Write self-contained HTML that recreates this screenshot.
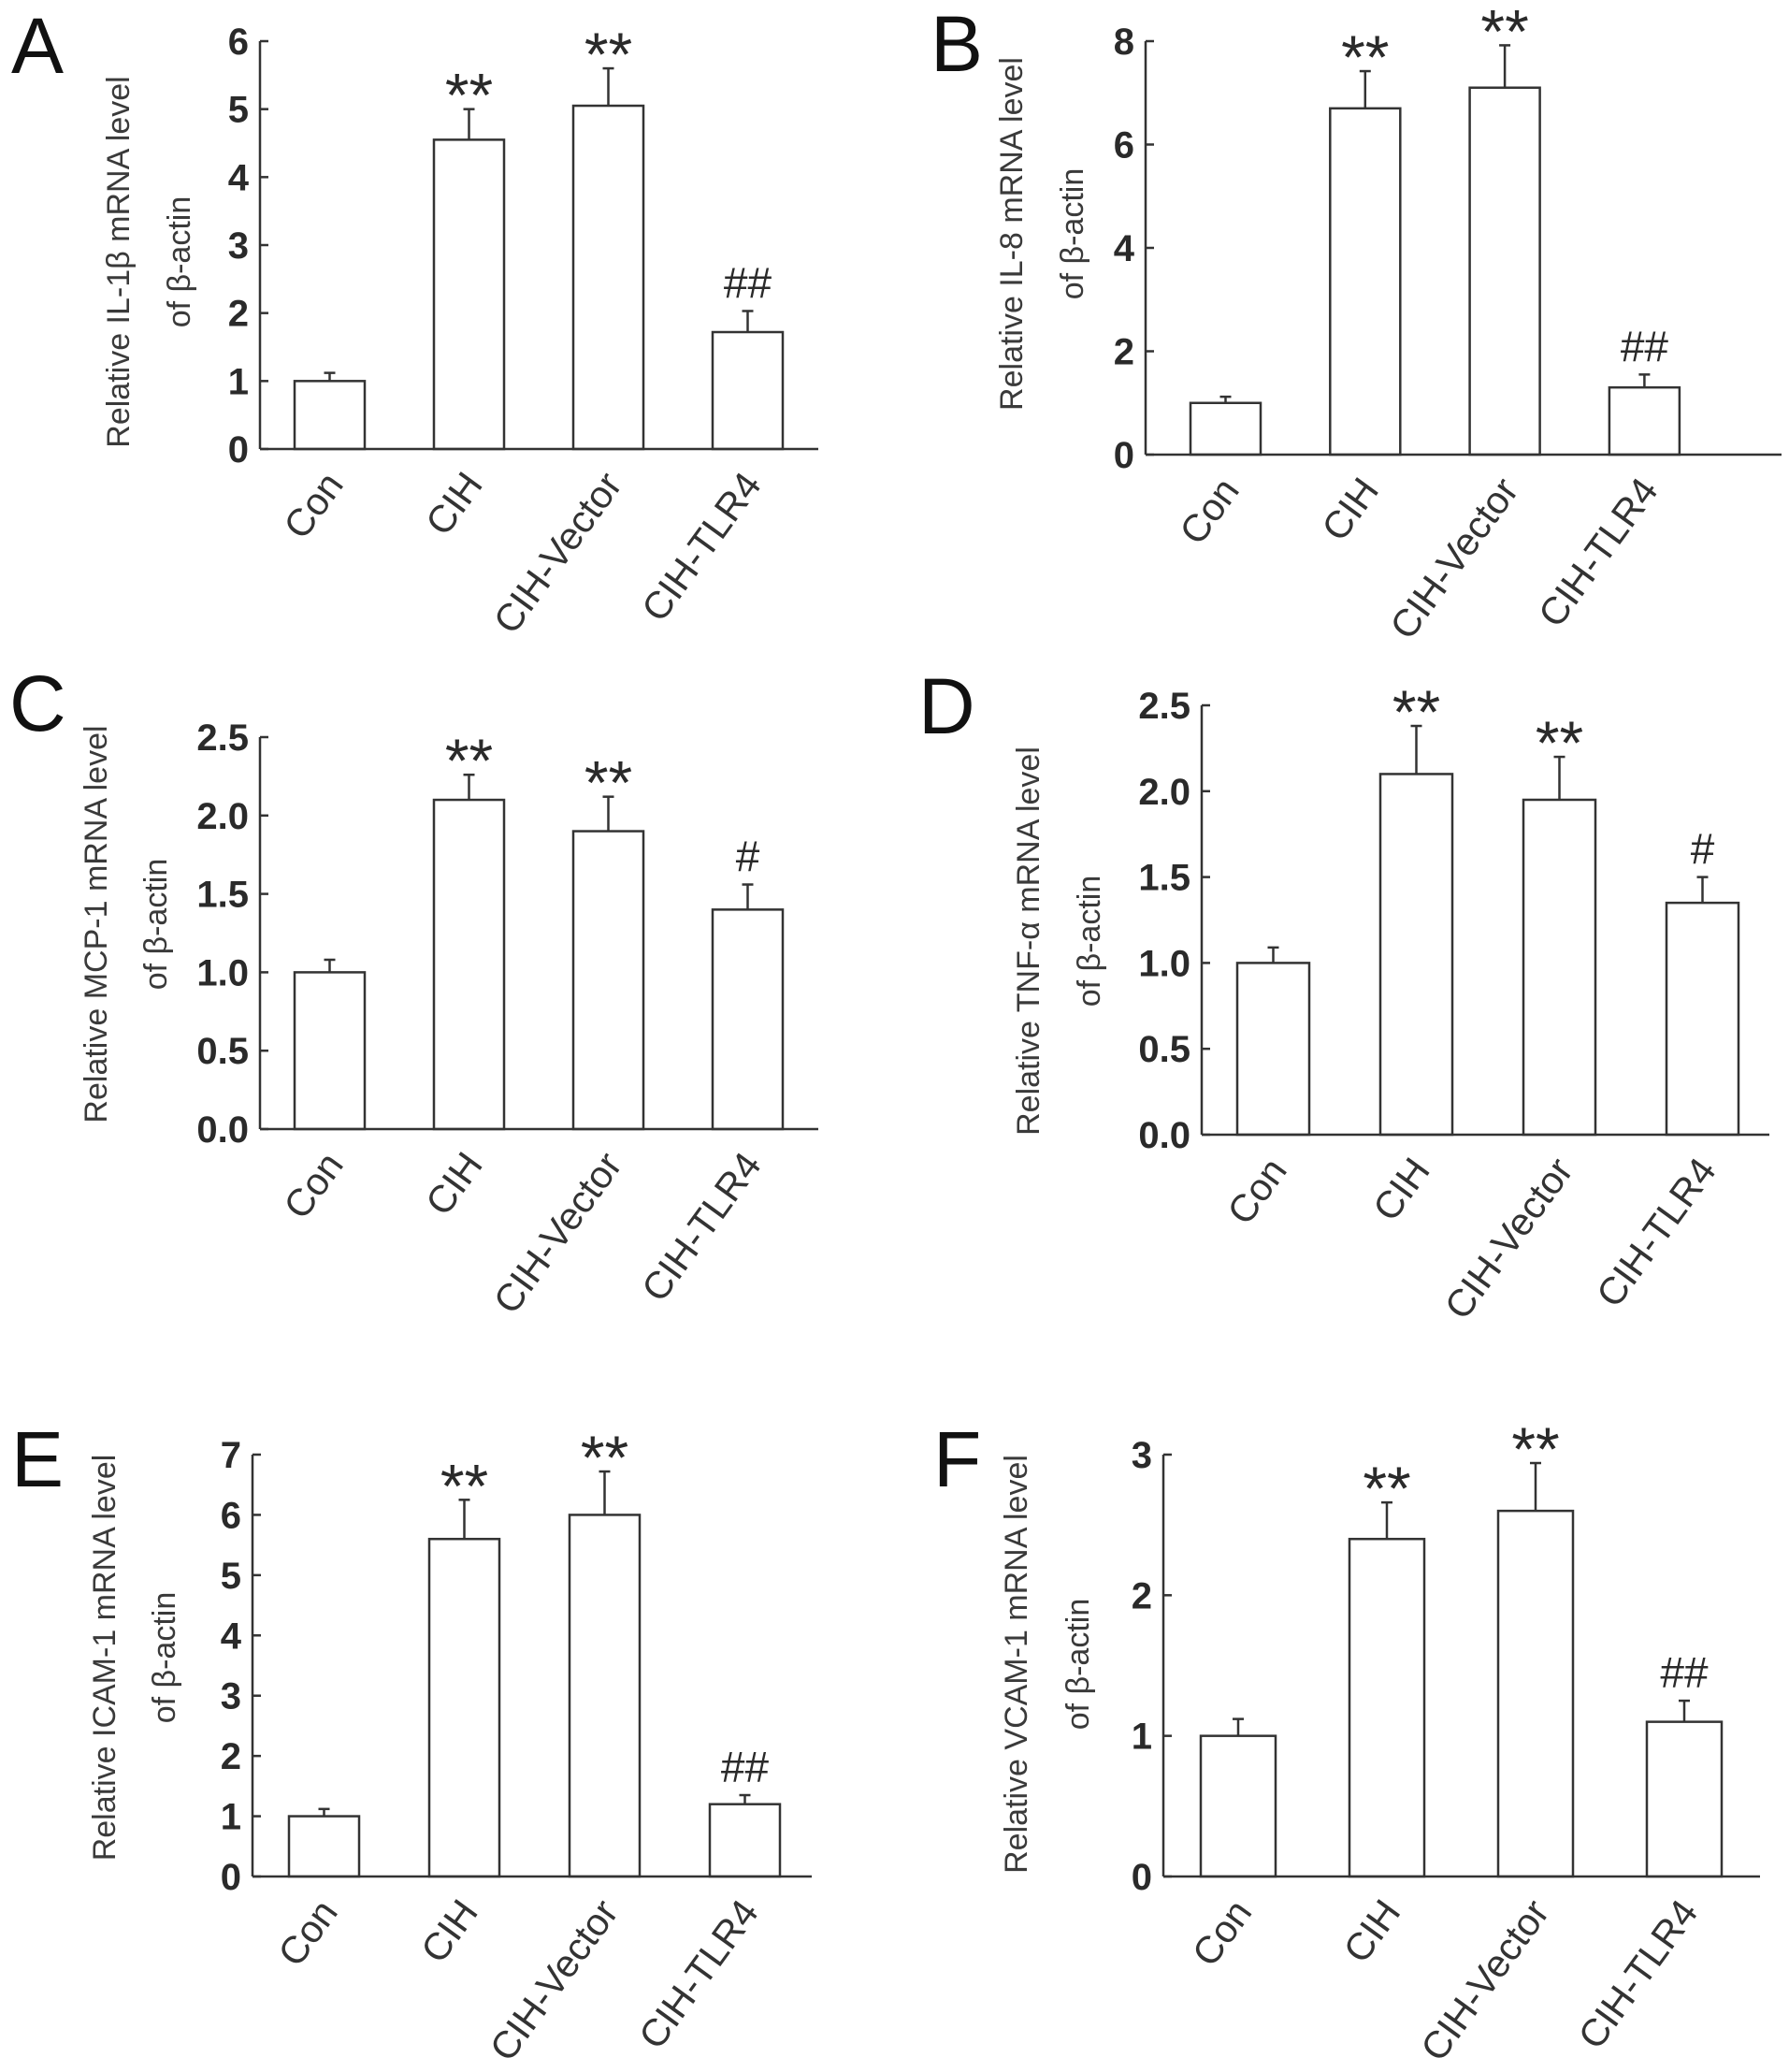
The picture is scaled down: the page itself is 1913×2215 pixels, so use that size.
<!DOCTYPE html>
<html><head><meta charset="utf-8"><style>
html,body{margin:0;padding:0;background:#fff;}
svg{display:block;}
text{font-family:"Liberation Sans",sans-serif;fill:#2a2a2a;}
.tick{font-family:"Liberation Sans Narrow","Liberation Sans",sans-serif;font-size:40px;font-weight:bold;}
.ytitle{font-size:34px;fill:#3a3a3a;}
.cat{font-size:41px;fill:#333;}
.letter{font-size:84px;fill:#111;}
</style></head><body>
<svg id="fig" width="1913" height="2215" viewBox="0 0 1913 2215" xmlns="http://www.w3.org/2000/svg"></svg>
<script>
const categories = ["Con","CIH","CIH-Vector","CIH-TLR4"];
const valuesA = [1.0, 4.55, 5.05, 1.72];
const errorsA = [0.12, 0.45, 0.55, 0.31];
const ticksA = ["0","1","2","3","4","5","6"];
const valuesB = [1.0, 6.7, 7.1, 1.3];
const errorsB = [0.12, 0.72, 0.82, 0.25];
const ticksB = ["0","2","4","6","8"];
const valuesC = [1.0, 2.1, 1.9, 1.4];
const errorsC = [0.08, 0.16, 0.22, 0.16];
const ticksC = ["0.0","0.5","1.0","1.5","2.0","2.5"];
const valuesD = [1.0, 2.1, 1.95, 1.35];
const errorsD = [0.09, 0.28, 0.25, 0.15];
const ticksD = ["0.0","0.5","1.0","1.5","2.0","2.5"];
const valuesE = [1.0, 5.6, 6.0, 1.2];
const errorsE = [0.12, 0.65, 0.72, 0.15];
const ticksE = ["0","1","2","3","4","5","6","7"];
const valuesF = [1.0, 2.4, 2.6, 1.1];
const errorsF = [0.12, 0.26, 0.34, 0.15];
const ticksF = ["0","1","2","3"];
const sigA = ["","**","**","##"];
const sigB = ["","**","**","##"];
const sigC = ["","**","**","#"];
const sigD = ["","**","**","#"];
const sigE = ["","**","**","##"];
const sigF = ["","**","**","##"];
const titlesA = ["Relative IL-1β mRNA level","of β-actin"];
const titlesB = ["Relative IL-8 mRNA level","of β-actin"];
const titlesC = ["Relative MCP-1 mRNA level","of β-actin"];
const titlesD = ["Relative TNF-α mRNA level","of β-actin"];
const titlesE = ["Relative ICAM-1 mRNA level","of β-actin"];
const titlesF = ["Relative VCAM-1 mRNA level","of β-actin"];

const NS="http://www.w3.org/2000/svg";
const svg=document.getElementById('fig');
function mk(tag,attrs,parent){const e=document.createElementNS(NS,tag);for(const k in attrs)e.setAttribute(k,attrs[k]);(parent||svg).appendChild(e);return e;}

const panels=[
 {id:'a',L:'A',lx:12,ly:78,vals:valuesA,errs:errorsA,ticks:ticksA,sig:sigA,tt:titlesA,ax:278,top:44,bot:480,right:875,b0:315,pitch:149,bw:75,t1:127,t2:192,tc:280},
 {id:'b',L:'B',lx:995,ly:76,vals:valuesB,errs:errorsB,ticks:ticksB,sig:sigB,tt:titlesB,ax:1225,top:44,bot:486,right:1905,b0:1273,pitch:149.3,bw:75,t1:1082,t2:1147,tc:250},
 {id:'c',L:'C',lx:10,ly:781,vals:valuesC,errs:errorsC,ticks:ticksC,sig:sigC,tt:titlesC,ax:278,top:788,bot:1207,right:875,b0:315,pitch:149,bw:75,t1:103,t2:167,tc:988},
 {id:'d',L:'D',lx:982,ly:784,vals:valuesD,errs:errorsD,ticks:ticksD,sig:sigD,tt:titlesD,ax:1285,top:754,bot:1213,right:1892,b0:1323,pitch:153,bw:77,t1:1100,t2:1165,tc:1006},
 {id:'e',L:'E',lx:12,ly:1589,vals:valuesE,errs:errorsE,ticks:ticksE,sig:sigE,tt:titlesE,ax:270,top:1555,bot:2006,right:868,b0:309,pitch:150,bw:75,t1:112,t2:176,tc:1772},
 {id:'f',L:'F',lx:998,ly:1589,vals:valuesF,errs:errorsF,ticks:ticksF,sig:sigF,tt:titlesF,ax:1244,top:1555,bot:2006,right:1882,b0:1284,pitch:159,bw:80,t1:1087,t2:1153,tc:1779}
];

panels.forEach(p=>{
 const g=mk('g',{});
 
 
 const maxV=parseFloat(p.ticks[p.ticks.length-1]);
 const y=v=>p.bot-(v/maxV)*(p.bot-p.top);
 const lt=mk('text',{x:p.lx,y:p.ly,class:'letter'},g);lt.textContent=p.L;
 
 
 [p.t1,p.t2].forEach((tx,i)=>{
  const t=mk('text',{x:0,y:0,class:'ytitle','text-anchor':'middle','dominant-baseline':'central',transform:`translate(${tx},${p.tc}) rotate(-90)`},g);
  t.textContent=p.tt[i];
  
  
 });
 const ya=mk('line',{x1:p.ax,y1:p.top,x2:p.ax,y2:p.bot,stroke:'#333','stroke-width':2.5},g);
 
 
 p.ticks.forEach(tl=>{
  const v=parseFloat(tl);const yy=y(v);
  const tk=mk('line',{x1:p.ax,y1:yy,x2:p.ax+9,y2:yy,stroke:'#333','stroke-width':2.5},g);
  
  
  const t=mk('text',{x:p.ax-12,y:yy+14,class:'tick','text-anchor':'end'},g);t.textContent=tl;
  
  
 });
 p.vals.forEach((v,i)=>{
  const x0=p.b0+i*p.pitch, cx=x0+p.bw/2, yt=y(v), ye=y(v+p.errs[i]);
  const eb=mk('line',{x1:cx,y1:yt,x2:cx,y2:ye,stroke:'#333','stroke-width':2.5},g);
  
  
  const cap=mk('line',{x1:cx-6,y1:ye,x2:cx+6,y2:ye,stroke:'#333','stroke-width':2.5},g);
  
  
  const r=mk('rect',{x:x0,y:yt,width:p.bw,height:p.bot-yt,fill:'#fff',stroke:'#333','stroke-width':2.5},g);
  
  
  if(p.sig[i]){
   const star=p.sig[i][0]==='*';
   const s=mk('text',{x:cx,y:ye+(star?8:-14),'text-anchor':'middle',style:star?'font-size:66px':'font-size:46px'},g);
   s.textContent=p.sig[i];
   
   
  }
  const c=mk('text',{x:0,y:0,class:'cat','text-anchor':'end',transform:`translate(${cx+16},${p.bot+38}) rotate(-54)`},g);
  c.textContent=categories[i];
  
  
 });
 const xa=mk('line',{x1:p.ax,y1:p.bot,x2:p.right,y2:p.bot,stroke:'#333','stroke-width':2.5},g);
 
 
});
</script>
</body></html>
